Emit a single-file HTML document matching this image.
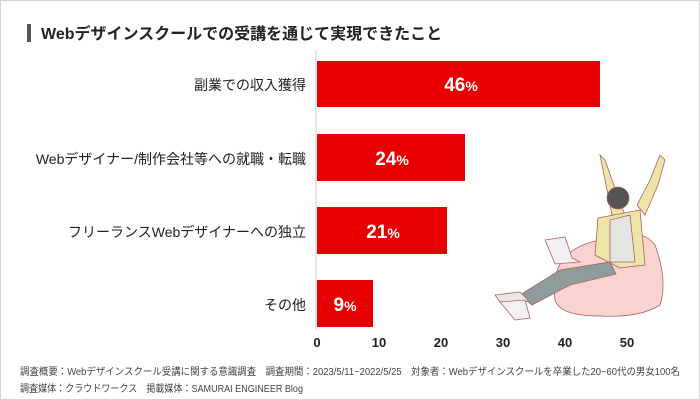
<!DOCTYPE html>
<html><head><meta charset="utf-8"><style>
html,body{margin:0;padding:0;background:#fff;}
svg{display:block;font-family:"Liberation Sans","Noto Sans CJK JP",sans-serif;}
</style></head><body>
<svg width="700" height="400" viewBox="0 0 700 400">
<rect x="0.5" y="0.5" width="699" height="399" fill="#fff" stroke="#d4d4d4"/>
<rect x="27" y="24" width="4" height="18" fill="#555"/>
<text x="41" y="39" font-size="16" font-weight="bold" fill="#222">Webデザインスクールでの受講を通じて実現できたこと</text>
<line x1="316" y1="50" x2="316" y2="330" stroke="#ccc" stroke-width="1"/>
<g fill="#e60000">
<rect x="317" y="61" width="283" height="46"/>
<rect x="317" y="134" width="148" height="47"/>
<rect x="317" y="207" width="130" height="47"/>
<rect x="317" y="280" width="56" height="47"/>
</g>
<g font-size="14" fill="#222" text-anchor="end">
<text x="306" y="90">副業での収入獲得</text>
<text x="306" y="164">Webデザイナー/制作会社等への就職・転職</text>
<text x="306" y="237">フリーランスWebデザイナーへの独立</text>
<text x="306" y="310">その他</text>
</g>
<g fill="#fff" font-weight="bold" text-anchor="middle">
<text x="461" y="91"><tspan font-size="19">46</tspan><tspan font-size="14">%</tspan></text>
<text x="392" y="165"><tspan font-size="19">24</tspan><tspan font-size="14">%</tspan></text>
<text x="383" y="238"><tspan font-size="19">21</tspan><tspan font-size="14">%</tspan></text>
<text x="345" y="311"><tspan font-size="19">9</tspan><tspan font-size="14">%</tspan></text>
</g>
<g font-size="13" font-weight="bold" fill="#222" text-anchor="middle">
<text x="317" y="347">0</text><text x="379" y="347">10</text><text x="441" y="347">20</text>
<text x="503" y="347">30</text><text x="565" y="347">40</text><text x="627" y="347">50</text>
</g>
<g font-size="10" fill="#444">
<text x="20" y="375" textLength="660" lengthAdjust="spacingAndGlyphs">調査概要：Webデザインスクール受講に関する意識調査　調査期間：2023/5/11~2022/5/25　対象者：Webデザインスクールを卒業した20~60代の男女100名</text>
<text x="20" y="392" textLength="283" lengthAdjust="spacingAndGlyphs">調査媒体：クラウドワークス　掲載媒体：SAMURAI ENGINEER Blog</text>
</g>
<!-- illustration -->
<g stroke="#b06060" stroke-width="0.8">
<path d="M555 300 Q548 250 600 240 Q640 225 655 245 Q668 280 660 305 Q640 318 600 316 Q560 316 555 300Z" fill="#f8d4d0"/>
<path d="M605 160 L600 155 L605 180 L612 215 L625 215 L612 180Z" fill="#ece4a8"/>
<path d="M660 155 L650 180 L637 205 L645 215 L658 185 L665 160Z" fill="#ece4a8"/>
<path d="M598 218 L640 210 L645 265 L620 268 L595 255Z" fill="#ece4a8"/>
<path d="M610 220 L630 215 L635 262 L610 262Z" fill="#e4e4e4"/>
<circle cx="618" cy="198" r="11" fill="#555"/>
<path d="M545 240 L565 237 L572 258 L580 262 L555 264Z" fill="#f0f0f0"/>
<path d="M520 295 L560 270 L610 262 L616 274 L570 285 L532 305Z" fill="#8e9c9c"/>
<path d="M495 295 L520 292 L528 300 L520 308 L500 302Z" fill="#e8e8e8"/>
<path d="M500 302 L525 300 L530 318 L515 320Z" fill="#f2f2f2"/>
</g>
</svg>
</body></html>
